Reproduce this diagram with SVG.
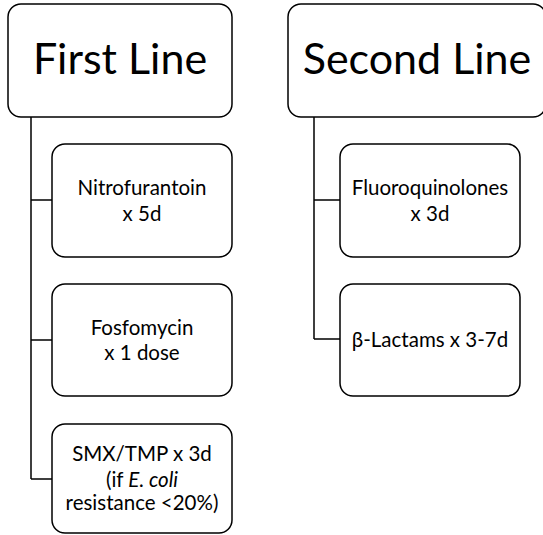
<svg xmlns="http://www.w3.org/2000/svg" width="543" height="535" viewBox="0 0 543 535">
<style>
.box{fill:#fff;stroke:#000;stroke-width:1.5}
.big{font-family:Lato,"Liberation Sans",sans-serif;font-size:43px;fill:#000;text-anchor:middle}
.sm{font-family:Lato,"Liberation Sans",sans-serif;font-size:20.5px;fill:#000;text-anchor:middle}
.conn{fill:none;stroke:#000;stroke-width:1.5}
</style>
<rect width="543" height="535" fill="#fff"/>
<g id="connectors">
<path class="conn" d="M31,117 V479 M31,200 H52 M31,340 H52 M31,479 H52"/>
<path class="conn" d="M314,117 V339 M314,200 H340 M314,339 H340"/>
</g>
<g id="first-line">
<rect class="box" x="8" y="4" width="224" height="113" rx="13"/>
<text class="big" x="120" y="74">First Line</text>
</g>
<g id="second-line">
<rect class="box" x="288" y="4" width="258" height="113" rx="13"/>
<text class="big" x="417" y="74">Second Line</text>
</g>
<g id="nitrofurantoin">
<rect class="box" x="52" y="144" width="180" height="113" rx="13"/>
<text class="sm" x="142" y="195">Nitrofurantoin</text>
<text class="sm" x="142" y="221">x 5d</text>
</g>
<g id="fosfomycin">
<rect class="box" x="52" y="284" width="180" height="112" rx="13"/>
<text class="sm" x="142" y="335">Fosfomycin</text>
<text class="sm" x="142" y="360">x 1 dose</text>
</g>
<g id="smx-tmp">
<rect class="box" x="52" y="424" width="180" height="109" rx="13"/>
<text class="sm" x="142" y="461">SMX/TMP x 3d</text>
<text class="sm" x="142" y="487">(if <tspan font-style="italic">E. coli</tspan></text>
<text class="sm" x="142" y="510">resistance &lt;20%)</text>
</g>
<g id="fluoroquinolones">
<rect class="box" x="340" y="144" width="180" height="113" rx="13"/>
<text class="sm" x="430" y="195">Fluoroquinolones</text>
<text class="sm" x="430" y="221">x 3d</text>
</g>
<g id="beta-lactams">
<rect class="box" x="340" y="284" width="180" height="112" rx="13"/>
<text class="sm" x="430" y="347">β-Lactams x 3-7d</text>
</g>
</svg>
